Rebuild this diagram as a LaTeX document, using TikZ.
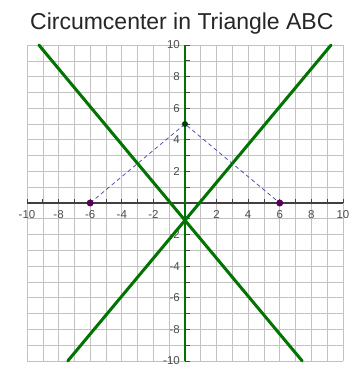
\documentclass[tikz,border=0pt]{standalone}
\usepackage{fontspec}
\setmainfont{Liberation Sans}
\begin{document}
\begin{tikzpicture}[x=15.8pt,y=15.8pt,
  gridline/.style={draw=black!24,line width=0.6pt},
  bisector/.style={draw=green!45!black,line width=3pt,line cap=round},
  tri/.style={draw=blue!35!gray,line width=0.8pt,dash pattern=on 4pt off 3pt},
  ticklab/.style={font=\fontsize{11.5}{11.5}\selectfont,text=black!70,inner sep=1pt},
  vert/.style={circle,fill=violet!70!black,inner sep=0pt,minimum size=7pt},
  apex/.style={circle,fill=green!25!black,inner sep=0pt,minimum size=6pt}]
\useasboundingbox[fill=white] (-11.71,-10.32) rectangle (10.57,12.85);
% grid
\foreach \i in {-10,...,10} {
  \draw[gridline] (\i,-10) -- (\i,10);
  \draw[gridline] (-10,\i) -- (10,\i);
}
% x axis
\coordinate (xl) at (-10,0);
\coordinate (xr) at (10,0);
\draw[black!75,line width=1.3pt] (xl) -- (xr);
\foreach \i in {-10,...,10} \draw[black!75,line width=0.8pt] (\i,0) -- (\i,0.25);
\foreach \i in {-10,-8,-6,-4,-2,2,4,6,8,10}
  \node[ticklab] (xlab\i) at (\i,-0.72) {\i};
% y ticks and labels
\foreach \i in {-10,...,10} \draw[black!75,line width=0.8pt] (0,\i) -- (0.3,\i);
\foreach \i in {-10,-8,-6,-4,-2,2,4,6,8,10}
  \node[ticklab,anchor=east] (ylab\i) at (-0.25,\i) {\i};
% triangle
\coordinate (A) at (-6,0);
\coordinate (B) at (0,5);
\coordinate (C) at (6,0);
\draw[tri] (A) -- (B) -- (C);
% bisectors
\coordinate (O) at (0,-1.1);
\coordinate (p1) at (-9.25,10);
\coordinate (p2) at (7.42,-10);
\coordinate (p3) at (-7.42,-10);
\coordinate (p4) at (9.25,10);
\coordinate (yt) at (0,10);
\coordinate (yb) at (0,-10);
\draw[bisector] (p1) -- (O) -- (p2);
\draw[bisector] (p3) -- (O) -- (p4);
\draw[green!45!black,line width=2.4pt] (yb) -- (yt);
% points
\node[vert] (vA) at (A) {};
\node[vert] (vC) at (C) {};
\node[apex] (vB) at (B) {};
% title
\node (title) at (-0.2,11.33) {\fontsize{23}{23}\selectfont\color{black!85}Circumcenter in Triangle ABC};
\end{tikzpicture}
\end{document}
